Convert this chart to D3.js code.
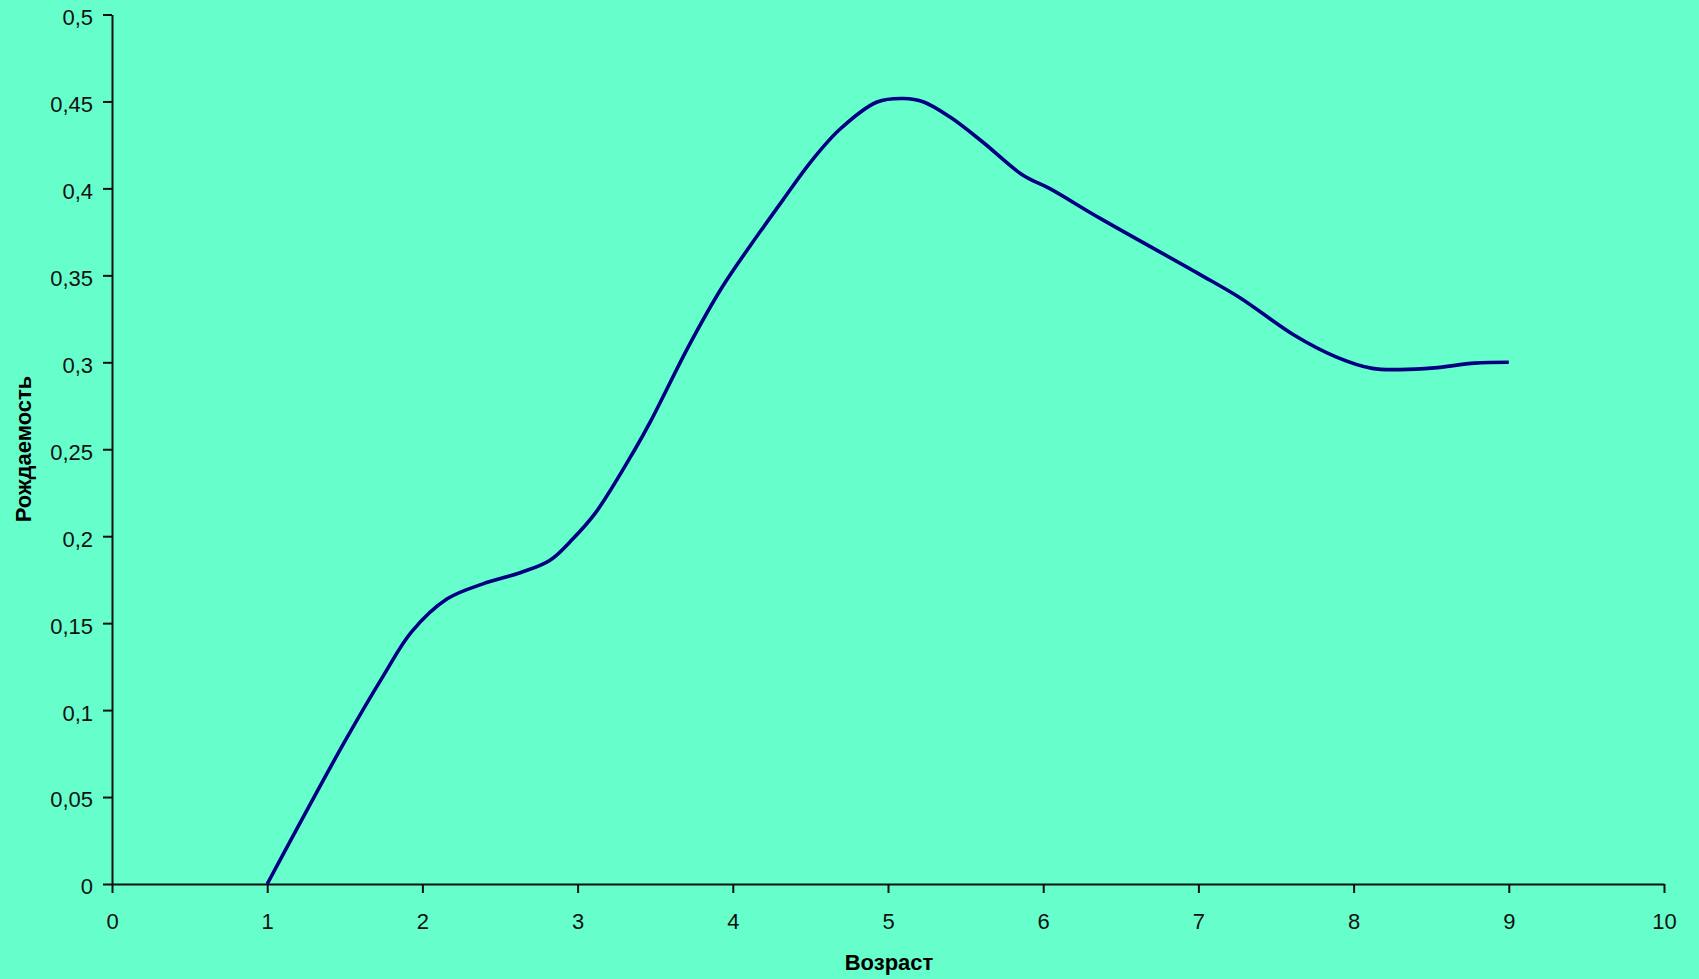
<!DOCTYPE html>
<html>
<head>
<meta charset="utf-8">
<script src="https://cdn.jsdelivr.net/npm/d3@7"></script>
<style>
  html, body { margin: 0; padding: 0; background: #66FFCC; }
  svg { display: block; }
</style>
</head>
<body>
<svg id="chart" width="1699" height="979"></svg>
<script>
// ---- data ----
const ageValues = [1.0, 1.5, 1.75, 1.93, 2.16, 2.39, 2.63, 2.82, 2.97, 3.12, 3.37, 3.47, 3.72, 3.93, 4.12, 4.32, 4.5, 4.69, 4.93, 5.1, 5.23, 5.4, 5.61, 5.87, 6.04, 6.37, 7.0, 7.27, 7.61, 7.89, 8.12, 8.3, 8.52, 8.78, 9.0];
const fertilityValues = [0, 0.082, 0.12, 0.145, 0.164, 0.1726, 0.179, 0.186, 0.1985, 0.214, 0.25, 0.266, 0.31, 0.343, 0.368, 0.393, 0.415, 0.434, 0.4497, 0.4517, 0.4497, 0.441, 0.4267, 0.4075, 0.4, 0.3826, 0.351, 0.337, 0.316, 0.303, 0.2965, 0.2958, 0.2968, 0.2995, 0.3];
const xTicks = [0, 1, 2, 3, 4, 5, 6, 7, 8, 9, 10];
const xTickLabels = ["0", "1", "2", "3", "4", "5", "6", "7", "8", "9", "10"];
const yTicks = [0, 0.05, 0.1, 0.15, 0.2, 0.25, 0.3, 0.35, 0.4, 0.45, 0.5];
const yTickLabels = ["0", "0,05", "0,1", "0,15", "0,2", "0,25", "0,3", "0,35", "0,4", "0,45", "0,5"];
const xTitle = "Возраст";
const yTitle = "Рождаемость";

// ---- chart ----
const svg = d3.select("#chart");
svg.append("rect").attr("width", 1699).attr("height", 979).attr("fill", "#66FFCC");

const x = d3.scaleLinear().domain([0, 10]).range([112, 1664]);
const y = d3.scaleLinear().domain([0, 0.5]).range([884, 14.5]);

const font = "'Liberation Sans', Arial, sans-serif";

const xAxis = d3.axisBottom(x)
  .tickValues(xTicks)
  .tickFormat((d, i) => xTickLabels[i])
  .tickSize(9).tickPadding(20).tickSizeOuter(0);
const gx = svg.append("g").attr("transform", `translate(0,${y(0)})`).call(xAxis);

const yAxis = d3.axisLeft(y)
  .tickValues(yTicks)
  .tickFormat((d, i) => yTickLabels[i])
  .tickSize(9).tickPadding(10).tickSizeOuter(0);
const gy = svg.append("g").attr("transform", `translate(${x(0)},0)`).call(yAxis);

[gx, gy].forEach(g => {
  g.select(".domain").attr("stroke", "#111").attr("stroke-width", 2);
  g.selectAll(".tick line").attr("stroke", "#111").attr("stroke-width", 2);
  g.selectAll(".tick text")
    .attr("fill", "#111")
    .style("font-family", font)
    .style("font-size", "22px");
});
gy.selectAll(".tick text").attr("dy", "0.45em");

const data = ageValues.map((a, i) => ({ a, f: fertilityValues[i] }));
const line = d3.line()
  .x(d => x(d.a))
  .y(d => y(d.f))
  .curve(d3.curveCatmullRom.alpha(0.5));

svg.append("path")
  .datum(data)
  .attr("fill", "none")
  .attr("stroke", "#000080")
  .attr("stroke-width", 3.6)
  .attr("stroke-linejoin", "round")
  .attr("d", line);

svg.append("text")
  .attr("x", 889).attr("y", 970)
  .attr("text-anchor", "middle")
  .style("font-family", font)
  .style("font-size", "22px")
  .style("font-weight", "bold")
  .attr("fill", "#000")
  .text(xTitle);

svg.append("text")
  .attr("transform", "translate(31,449) rotate(-90)")
  .attr("text-anchor", "middle")
  .style("font-family", font)
  .style("font-size", "22px")
  .style("font-weight", "bold")
  .attr("fill", "#000")
  .text(yTitle);
</script>
</body>
</html>
